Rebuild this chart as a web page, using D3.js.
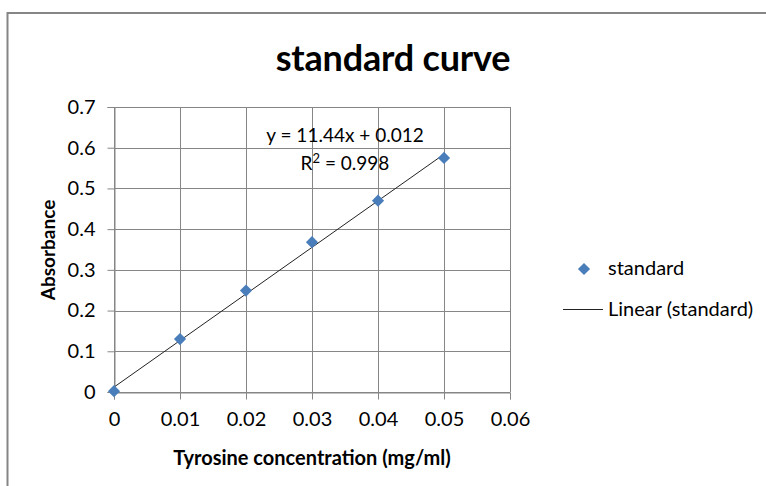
<!DOCTYPE html>
<html>
<head>
<meta charset="utf-8">
<script src="https://cdn.jsdelivr.net/npm/d3@7"></script>
<style>
  body { margin: 0; background: #fff; }
  svg text { font-family: "Lato", "Open Sans", sans-serif; fill: #000; }
</style>
</head>
<body>
<svg id="chart" width="766" height="486"></svg>
<script>
let width = 766, height = 486;

// data
let concentration = [0, 0.01, 0.02, 0.03, 0.04, 0.05];
let absorbance = [0.002, 0.130, 0.249, 0.368, 0.470, 0.575];
let xTicks = [0, 0.01, 0.02, 0.03, 0.04, 0.05, 0.06];
let yTicks = [0, 0.1, 0.2, 0.3, 0.4, 0.5, 0.6, 0.7];
let slope = 11.44, intercept = 0.012;

let plotLeft = 114, plotRight = 510, plotTop = 107, plotBottom = 392;
let gridColor = "#868686", blue = "#4a7ebb";

var svg = d3.select('#chart');

// chart frame, runs past the right and bottom edges
svg.append('rect')
    .attr('x', 7.5).attr('y', 13)
    .attr('width', 800).attr('height', 600)
    .attr('fill', 'none')
    .attr('stroke', gridColor)
    .attr('stroke-width', 2);

var x = d3.scaleLinear().domain([0, 0.06]).range([plotLeft, plotRight]);
var y = d3.scaleLinear().domain([0, 0.7]).range([plotBottom, plotTop]);

svg.append('text')
    .attr('x', 393).attr('y', 71)
    .attr('text-anchor', 'middle')
    .attr('font-size', 36).attr('font-weight', 'bold')
    .attr('letter-spacing', -0.2)
    .text('standard curve');

// gridlines
svg.append('g').selectAll('line')
    .data(yTicks).enter().append('line')
    .attr('x1', plotLeft).attr('x2', plotRight)
    .attr('y1', d => Math.round(y(d)) + 0.5).attr('y2', d => Math.round(y(d)) + 0.5)
    .attr('stroke', gridColor);

svg.append('g').selectAll('line')
    .data(xTicks).enter().append('line')
    .attr('y1', plotTop).attr('y2', plotBottom)
    .attr('x1', d => Math.round(x(d)) + 0.5).attr('x2', d => Math.round(x(d)) + 0.5)
    .attr('stroke', gridColor);

// axes
var xAxis = svg.append('g')
    .attr('transform', 'translate(0,' + (Math.round(plotBottom) + 0.5) + ')')
    .call(d3.axisBottom(x).tickValues(xTicks).tickSize(7).tickPadding(12)
        .tickFormat(d => d === 0 ? '0' : d3.format('.2f')(d)));

var yAxis = svg.append('g')
    .attr('transform', 'translate(' + (Math.round(plotLeft) + 0.5) + ',0)')
    .call(d3.axisLeft(y).tickValues(yTicks).tickSize(7).tickPadding(12)
        .tickFormat(d => d === 0 ? '0' : d3.format('.1f')(d)));

[xAxis, yAxis].forEach(function(a) {
  a.select('.domain').attr('stroke', gridColor);
  a.selectAll('.tick line').attr('stroke', gridColor);
  a.selectAll('.tick text')
    .attr('font-size', 20)
    .attr('font-family', 'Lato, sans-serif')
    .attr('fill', '#000');
});

// trendline
svg.append('line')
    .attr('x1', x(0)).attr('y1', y(intercept))
    .attr('x2', x(0.05)).attr('y2', y(slope * 0.05 + intercept))
    .attr('stroke', '#222').attr('stroke-width', 1);

// markers
var diamond = d3.symbol().type(d3.symbolSquare).size(74);
svg.append('g').selectAll('path')
    .data(concentration).enter().append('path')
    .attr('d', diamond)
    .attr('transform', (d, i) => 'translate(' + x(d) + ',' + y(absorbance[i]) + ') rotate(45)')
    .attr('fill', blue);

// equation labels
svg.append('text')
    .attr('x', 345).attr('y', 142)
    .attr('text-anchor', 'middle').attr('font-size', 19)
    .text('y = ' + slope + 'x + ' + intercept);

var r2 = svg.append('text')
    .attr('x', 345).attr('y', 170)
    .attr('text-anchor', 'middle').attr('font-size', 19);
r2.append('tspan').text('R');
r2.append('tspan').attr('font-size', 13).attr('dy', -7).text('2');
r2.append('tspan').attr('dy', 7).text(' = 0.998');

// axis titles
svg.append('text')
    .attr('x', 312).attr('y', 465)
    .attr('text-anchor', 'middle')
    .attr('font-size', 20).attr('font-weight', 'bold')
    .text('Tyrosine concentration (mg/ml)');

svg.append('text')
    .attr('transform', 'translate(55,250) rotate(-90)')
    .attr('text-anchor', 'middle')
    .attr('font-size', 19).attr('font-weight', 'bold')
    .text('Absorbance');

// legend
svg.append('path')
    .attr('d', diamond)
    .attr('transform', 'translate(584,269) rotate(45)')
    .attr('fill', blue);
svg.append('text')
    .attr('x', 608).attr('y', 275)
    .attr('font-size', 20)
    .text('standard');

svg.append('line')
    .attr('x1', 563).attr('x2', 603)
    .attr('y1', 309.5).attr('y2', 309.5)
    .attr('stroke', '#222');
svg.append('text')
    .attr('x', 608).attr('y', 316)
    .attr('font-size', 20)
    .text('Linear (standard)');
</script>
</body>
</html>
